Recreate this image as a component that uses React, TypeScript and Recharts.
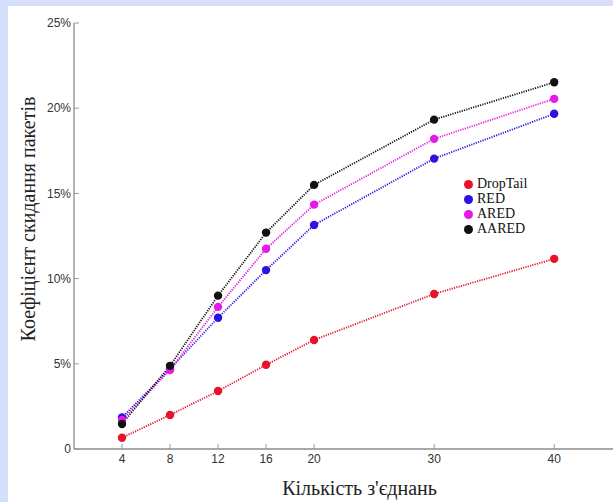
import React from 'react';
import { LineChart, Line, XAxis, YAxis, Legend, Label } from 'recharts';

// number of connections
const connections = [4, 8, 12, 16, 20, 30, 40];

// packet drop rate, %
const dropTail = [0.66, 2.0, 3.4, 4.94, 6.4, 9.1, 11.16];
const red = [1.85, 4.7, 7.7, 10.5, 13.15, 17.04, 19.67];
const ared = [1.7, 4.64, 8.34, 11.75, 14.34, 18.2, 20.55];
const aared = [1.47, 4.88, 9.0, 12.7, 15.5, 19.33, 21.52];

const yTicks = [0, 5, 10, 15, 20, 25];

const data = connections.map((n, i) => ({
  n,
  DropTail: dropTail[i],
  RED: red[i],
  ARED: ared[i],
  AARED: aared[i],
}));

const series = [
  { key: 'DropTail', color: '#e8132b' },
  { key: 'RED', color: '#2d12e6' },
  { key: 'ARED', color: '#e61ae6' },
  { key: 'AARED', color: '#111111' },
];
const order = series.map(s => s.key);

const SERIF = '"Liberation Serif", "Times New Roman", serif';
const SANS = '"Liberation Sans", Arial, sans-serif';

const YTitle = (props: any) => {
  const vb = props.viewBox || {};
  const cx = vb.x + 28;
  const cy = vb.y + vb.height / 2 - 17;
  return (
    <text
      x={cx}
      y={cy}
      transform={`rotate(-90 ${cx} ${cy})`}
      textAnchor="middle"
      dominantBaseline="central"
      fontFamily={SERIF}
      fontSize={20}
      fill="#222"
    >
      Коефіцієнт скидання пакетів
    </text>
  );
};

const XTitle = (props: any) => {
  const vb = props.viewBox || {};
  return (
    <text
      x={vb.x + vb.width / 2 + 16}
      y={vb.y + 46}
      textAnchor="middle"
      fontFamily={SERIF}
      fontSize={20}
      fill="#222"
    >
      Кількість з'єднань
    </text>
  );
};

export default function App() {
  return (
    <div style={{ position: 'absolute', left: 0, top: 0, width: 613, height: 502, background: '#d5dffc' }}>
      <div style={{ position: 'absolute', left: 8, top: 6, width: 605, height: 496, background: '#fff' }} />
      <div style={{ position: 'absolute', left: 0, top: 0 }}>
        <LineChart width={613} height={502} data={data} margin={{ top: 23, right: 0, bottom: 0, left: 0 }}>
          <XAxis
            dataKey="n"
            type="number"
            domain={[0, 44.9]}
            ticks={connections}
            height={53}
            tickSize={-5}
            tickMargin={10}
            axisLine={{ stroke: '#8c8c8c', strokeWidth: 1.3 }}
            tickLine={{ stroke: '#999' }}
            tick={{ fontFamily: SANS, fontSize: 12, fill: '#333' }}
          >
            <Label content={XTitle} />
          </XAxis>
          <YAxis
            type="number"
            domain={[0, 25]}
            ticks={yTicks}
            width={74}
            tickSize={-5}
            tickMargin={8}
            tickFormatter={(v: number) => (v === 0 ? '0' : `${v}%`)}
            axisLine={{ stroke: '#8c8c8c', strokeWidth: 1.3 }}
            tickLine={{ stroke: '#999' }}
            tick={{ fontFamily: SANS, fontSize: 12, fill: '#333' }}
          >
            <Label content={YTitle} />
          </YAxis>
          <Legend
            layout="vertical"
            align="center"
            verticalAlign="middle"
            iconType="circle"
            iconSize={9}
            itemSorter={(item: any) => order.indexOf(item.value)}
            wrapperStyle={{ left: 464, top: 176, width: 90, fontFamily: SERIF, fontSize: 14, lineHeight: '15px', textAlign: 'left' }}
            formatter={(value: string) => <span style={{ color: '#111' }}>{value}</span>}
          />
          {series.map(s => (
            <Line
              key={s.key}
              dataKey={s.key}
              type="linear"
              stroke={s.color}
              strokeWidth={1.8}
              strokeDasharray="1.2 1.2"
              dot={{ r: 4.2, fill: s.color, stroke: 'none' }}
              isAnimationActive={false}
            />
          ))}
        </LineChart>
      </div>
    </div>
  );
}
